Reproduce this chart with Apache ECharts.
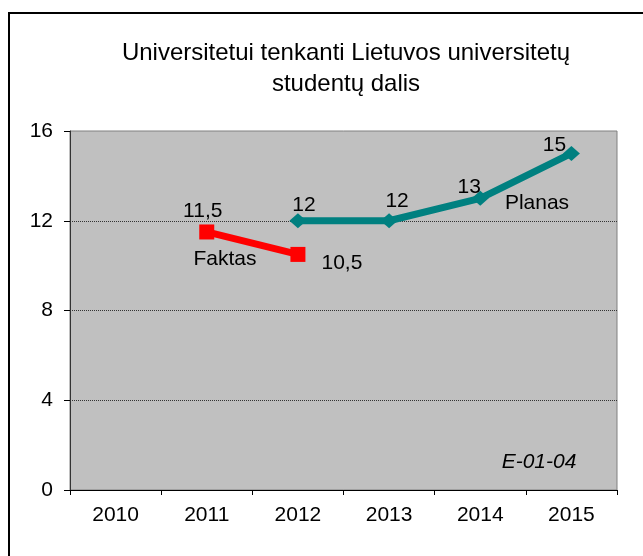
<!DOCTYPE html>
<html>
<head>
<meta charset="utf-8">
<script src="https://cdn.jsdelivr.net/npm/echarts@6/dist/echarts.min.js"></script>
<style>
  html, body { margin: 0; padding: 0; background: #fff; }
  #main { width: 643px; height: 556px; }
</style>
</head>
<body>
<div id="main"></div>
<script>
// duomenys
var years = ['2010', '2011', '2012', '2013', '2014', '2015'];
var faktas = [null, 11.5, 10.5, null, null, null];
var planas = [null, null, 12, 12, 13, 15];
var yTicks = [0, 4, 8, 12, 16];

// label offsets from the point centre
var faktasOffsets = [null, [-4, -21], [44, 9], null, null, null];
var planasOffsets = [null, null, [6, -16], [8, -20], [-11, -11], [-17, -8]];

var FONT = 'Liberation Sans, Arial, sans-serif';

function fmt(v) {
  return String(v).replace('.', ',');
}

function withLabels(values, offsets) {
  return values.map(function (v, i) {
    if (v == null) return null;
    return {
      value: v,
      label: { show: true, position: 'inside', offset: offsets[i] }
    };
  });
}

var myChart = echarts.init(document.getElementById('main'));
var option;

option = {
  backgroundColor: '#ffffff',
  animation: false,
  textStyle: { fontFamily: FONT },
  grid: {
    left: 70,
    right: 26,
    top: 131,
    bottom: 66,
    show: true,
    backgroundColor: '#c0c0c0',
    borderColor: '#808080',
    borderWidth: 1
  },
  xAxis: {
    type: 'category',
    data: years,
    boundaryGap: true,
    axisLine: { lineStyle: { color: '#000', width: 1 } },
    axisTick: { show: true, length: 5, lineStyle: { color: '#000' } },
    axisLabel: { color: '#000', fontSize: 21, margin: 15 }
  },
  yAxis: {
    type: 'value',
    min: yTicks[0],
    max: yTicks[yTicks.length - 1],
    interval: 4,
    axisLine: { show: true, lineStyle: { color: '#333', width: 1 } },
    axisTick: { show: true, length: 6, lineStyle: { color: '#000' } },
    axisLabel: { color: '#000', fontSize: 21, margin: 17 },
    splitLine: {
      show: true,
      showMinLine: false,
      showMaxLine: false,
      lineStyle: { type: 'dotted', color: '#333', width: 1 }
    }
  },
  graphic: [
    {
      type: 'rect',
      shape: { x: 9, y: 13, width: 700, height: 600 },
      style: { fill: 'none', stroke: '#000', lineWidth: 2 },
      silent: true
    },
    {
      type: 'text',
      x: 346,
      y: 53,
      style: { text: 'Universitetui tenkanti Lietuvos universitetų', fill: '#000', font: '24px ' + FONT, textAlign: 'center', textVerticalAlign: 'middle' }
    },
    {
      type: 'text',
      x: 346,
      y: 84,
      style: { text: 'studentų dalis', fill: '#000', font: '24px ' + FONT, textAlign: 'center', textVerticalAlign: 'middle' }
    },
    {
      type: 'text',
      x: 225,
      y: 259,
      style: { text: 'Faktas', fill: '#000', font: '21px ' + FONT, textAlign: 'center', textVerticalAlign: 'middle' }
    },
    {
      type: 'text',
      x: 537,
      y: 203,
      style: { text: 'Planas', fill: '#000', font: '21px ' + FONT, textAlign: 'center', textVerticalAlign: 'middle' }
    },
    {
      type: 'text',
      x: 539,
      y: 462,
      style: { text: 'E-01-04', fill: '#000', font: 'italic 21px ' + FONT, textAlign: 'center', textVerticalAlign: 'middle' }
    }
  ],
  series: [
    {
      name: 'Faktas',
      type: 'line',
      data: withLabels(faktas, faktasOffsets),
      symbol: 'rect',
      symbolSize: 15,
      lineStyle: { color: '#ff0000', width: 7 },
      itemStyle: { color: '#ff0000' },
      label: { color: '#000', fontSize: 21, formatter: function (p) { return fmt(p.value); } },
      z: 3
    },
    {
      name: 'Planas',
      type: 'line',
      data: withLabels(planas, planasOffsets),
      symbol: 'diamond',
      symbolSize: [17, 15],
      lineStyle: { color: '#008080', width: 7 },
      itemStyle: { color: '#008080' },
      label: { color: '#000', fontSize: 21, formatter: function (p) { return fmt(p.value); } },
      z: 3
    }
  ]
};

option && myChart.setOption(option);
</script>
</body>
</html>
